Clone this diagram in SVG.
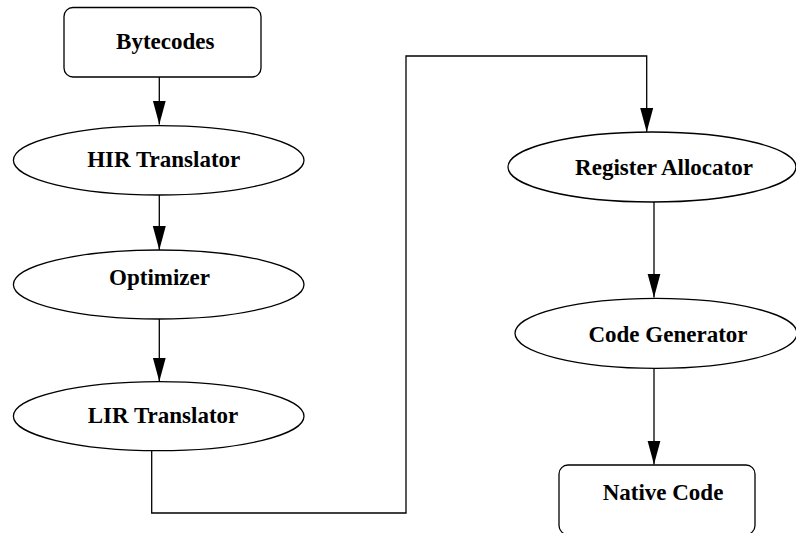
<svg xmlns="http://www.w3.org/2000/svg" width="796" height="533" viewBox="0 0 796 533">
  <style>
    .shape { fill: #ffffff; stroke: #000000; stroke-width: 1.3; }
    .edge { fill: none; stroke: #000000; stroke-width: 1.3; }
    .label { font-family: "Liberation Serif", "Times New Roman", serif; font-weight: bold; font-size: 23px; fill: #000000; text-anchor: middle; }
  </style>
  <defs>
    <marker id="arrow" markerUnits="userSpaceOnUse" markerWidth="25" markerHeight="15" refX="24" refY="7" orient="auto">
      <path d="M0,0.5 L24,7 L0,13.5 z" fill="#000000"/>
    </marker>
  </defs>
  <rect width="796" height="533" fill="#ffffff"/>

  <g id="connectors">
    <path class="edge" d="M159.3,77 V124.5" marker-end="url(#arrow)"/>
    <path class="edge" d="M159.3,195 V250" marker-end="url(#arrow)"/>
    <path class="edge" d="M159.3,319 V381.5" marker-end="url(#arrow)"/>
    <path class="edge" d="M151.7,450.7 V513 H406 V56 H646.7 V132" marker-end="url(#arrow)"/>
    <path class="edge" d="M654,202 V297.5" marker-end="url(#arrow)"/>
    <path class="edge" d="M654,368.5 V464.5" marker-end="url(#arrow)"/>
  </g>

  <g id="bytecodes">
    <rect class="shape" x="64" y="7.5" width="197" height="69.5" rx="9" ry="9"/>
    <text class="label" x="165.3" y="48.5">Bytecodes</text>
  </g>
  <g id="hir-translator">
    <ellipse class="shape" cx="158.7" cy="160.3" rx="145.3" ry="34.7"/>
    <text class="label" x="163.7" y="167">HIR Translator</text>
  </g>
  <g id="optimizer">
    <ellipse class="shape" cx="158.7" cy="284.5" rx="145.3" ry="34.5"/>
    <text class="label" x="159.5" y="285">Optimizer</text>
  </g>
  <g id="lir-translator">
    <ellipse class="shape" cx="158.7" cy="416.2" rx="145.3" ry="34.5"/>
    <text class="label" x="163" y="423">LIR Translator</text>
  </g>
  <g id="register-allocator">
    <ellipse class="shape" cx="652" cy="167" rx="144" ry="35"/>
    <text class="label" x="664" y="175">Register Allocator</text>
  </g>
  <g id="code-generator">
    <ellipse class="shape" cx="656" cy="333.3" rx="141" ry="35"/>
    <text class="label" x="668" y="341.7">Code Generator</text>
  </g>
  <g id="native-code">
    <rect class="shape" x="559" y="465" width="196" height="69.5" rx="9" ry="9"/>
    <text class="label" x="663" y="500">Native Code</text>
  </g>
</svg>
